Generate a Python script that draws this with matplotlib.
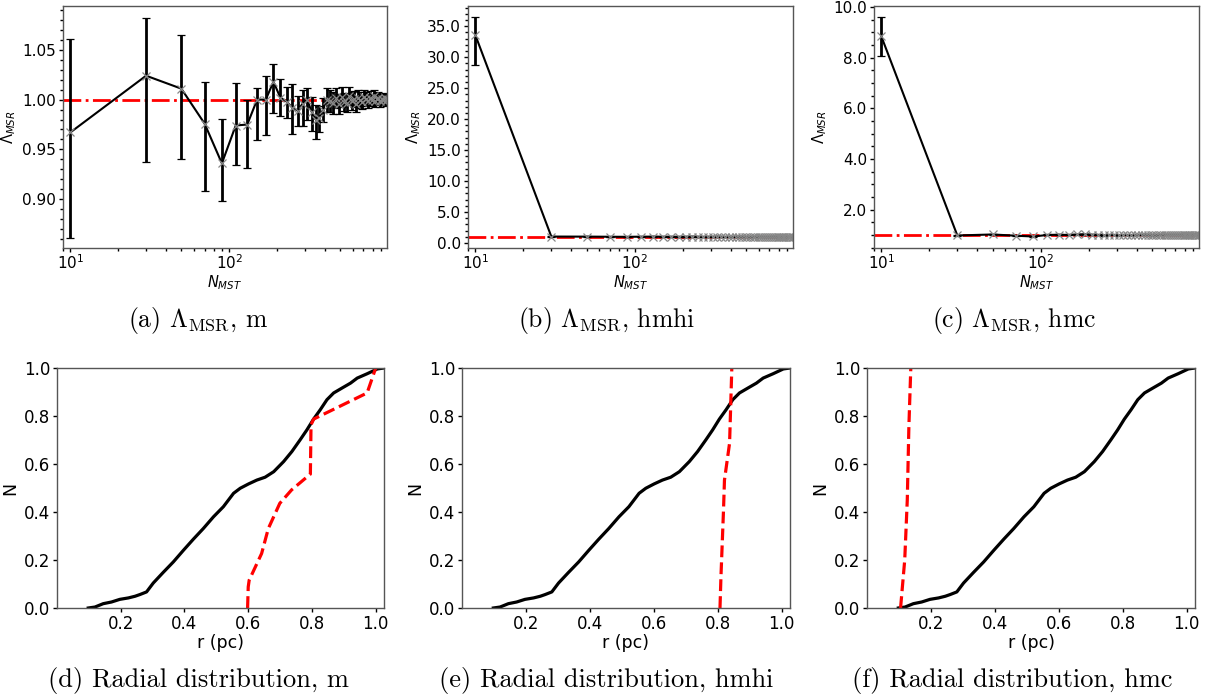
import numpy as np
import matplotlib.pyplot as plt
from matplotlib.ticker import FormatStrFormatter, MultipleLocator

# N_MST sample sizes (same for the three top panels)
n_mst = [10, 30, 50, 70, 90, 110, 130, 150, 170, 190,
         210, 230, 250, 270, 290, 310, 330, 350, 370, 390,
         410, 430, 450, 470, 490, 510, 530, 550, 570, 590,
         610, 630, 650, 670, 690, 710, 730, 750, 770, 790,
         810, 830, 850, 870, 890, 910, 930, 950, 970, 990]

# (a) m
a_val = [0.967, 1.024, 1.011, 0.976, 0.936, 0.974, 0.975, 1.000, 1.000, 1.018,
         1.002, 0.998, 0.992, 0.989, 0.996, 1.000, 0.988, 0.980, 0.982, 0.990,
         1.000, 0.999, 0.997, 1.002, 0.996, 1.003, 0.998, 0.997, 1.004, 0.999,
         1.001, 0.996, 1.002, 1.000, 0.998, 1.003, 1.001, 0.999, 1.002, 1.000,
         1.004, 0.999, 1.001, 1.002, 0.999, 1.001, 1.000, 1.002, 0.999, 1.001]
a_lo = [0.106, 0.087, 0.071, 0.068, 0.038, 0.040, 0.044, 0.041, 0.036, 0.031,
        0.018, 0.016, 0.027, 0.015, 0.022, 0.020, 0.020, 0.020, 0.015, 0.012,
        0.012, 0.011, 0.011, 0.010, 0.010, 0.010, 0.009, 0.009, 0.009, 0.009,
        0.008, 0.008, 0.008, 0.008, 0.007, 0.007, 0.007, 0.007, 0.007, 0.006,
        0.006, 0.006, 0.006, 0.006, 0.006, 0.005, 0.005, 0.005, 0.005, 0.005]
a_hi = [0.094, 0.058, 0.054, 0.042, 0.045, 0.043, 0.025, 0.012, 0.024, 0.018,
        0.019, 0.015, 0.024, 0.015, 0.014, 0.012, 0.015, 0.015, 0.012, 0.012,
        0.012, 0.011, 0.011, 0.010, 0.010, 0.010, 0.009, 0.009, 0.009, 0.009,
        0.008, 0.008, 0.008, 0.008, 0.007, 0.007, 0.007, 0.007, 0.007, 0.006,
        0.006, 0.006, 0.006, 0.006, 0.006, 0.005, 0.005, 0.005, 0.005, 0.005]

# (b) hmhi
b_val = [33.6, 1.02, 1.01, 0.99, 0.98, 1.00, 1.01, 1.00, 1.00, 0.99,
         1.00, 1.01, 1.00, 0.99, 1.00, 1.00, 1.01, 1.00, 0.99, 1.00,
         1.00, 1.00, 1.01, 1.00, 1.00, 0.99, 1.00, 1.00, 1.00, 1.01,
         1.00, 1.00, 0.99, 1.00, 1.00, 1.00, 1.00, 1.01, 1.00, 1.00,
         1.00, 0.99, 1.00, 1.00, 1.00, 1.00, 1.00, 1.00, 1.00, 1.00]
b_lo = [4.8] + [0.03] * 49
b_hi = [2.9] + [0.03] * 49

# (c) hmc
c_val = [8.84, 0.98, 1.02, 0.97, 0.94, 1.00, 1.01, 1.00, 1.02, 1.03,
         1.01, 1.00, 0.99, 1.00, 1.00, 0.99, 1.00, 1.00, 0.99, 1.00,
         1.00, 1.00, 1.01, 1.00, 1.00, 0.99, 1.00, 1.00, 1.00, 1.00,
         1.00, 1.00, 1.00, 1.00, 1.00, 1.00, 1.00, 1.00, 1.00, 1.00,
         1.00, 1.00, 1.00, 1.00, 1.00, 1.00, 1.00, 1.00, 1.00, 1.00]
c_lo = [0.77] + [0.02] * 49
c_hi = [0.76] + [0.02] * 49

# radial distributions: reference (black) curve
r_ref = [0.098, 0.119, 0.145, 0.171, 0.197, 0.224, 0.245, 0.260, 0.281, 0.302,
         0.333, 0.365, 0.397, 0.428, 0.459, 0.491, 0.522, 0.554, 0.575, 0.601,
         0.627, 0.653, 0.680, 0.711, 0.737, 0.763, 0.784, 0.805, 0.826, 0.847,
         0.868, 0.895, 0.921, 0.942, 0.973, 1.005, 1.026]
n_ref = [0.000, 0.004, 0.018, 0.025, 0.036, 0.042, 0.049, 0.056, 0.067, 0.104,
         0.148, 0.192, 0.241, 0.287, 0.331, 0.380, 0.422, 0.478, 0.499, 0.517,
         0.533, 0.545, 0.568, 0.610, 0.652, 0.701, 0.742, 0.787, 0.826, 0.868,
         0.896, 0.917, 0.937, 0.958, 0.976, 0.996, 1.000]

# selected stars (red)
r_m = [0.598, 0.600, 0.603, 0.642, 0.663, 0.699, 0.736, 0.795, 0.797, 0.805, 0.973, 1.000]
n_m = [0.000, 0.088, 0.116, 0.227, 0.331, 0.436, 0.492, 0.558, 0.763, 0.787, 0.896, 1.000]
r_hmhi = [0.807, 0.810, 0.818, 0.821, 0.837, 0.844]
n_hmhi = [0.000, 0.130, 0.408, 0.533, 0.687, 1.000]
r_hmc = [0.105, 0.118, 0.126, 0.131, 0.137]
n_hmc = [0.000, 0.200, 0.450, 0.756, 1.000]

W, H = 1213, 698
fig = plt.figure(figsize=(W / 100, H / 100), dpi=100)


def px_axes(left, top, right, bottom):
    return fig.add_axes([left / W, 1 - bottom / H, (right - left) / W, (bottom - top) / H])


def style(ax, fs):
    for s in ax.spines.values():
        s.set_color('#555555')
        s.set_linewidth(1.0)
    ax.tick_params(labelsize=fs, length=3, width=1, pad=2)
    ax.tick_params(which='minor', length=2, width=1)


top_axes = [px_axes(63, 6, 387, 248), px_axes(468, 6, 793, 248), px_axes(874, 6, 1199, 248)]
top_data = [(a_val, a_lo, a_hi), (b_val, b_lo, b_hi), (c_val, c_lo, c_hi)]

for i, ax in enumerate(top_axes):
    val, lo, hi = top_data[i]
    ax.axhline(1.0, color='red', linestyle='-.', linewidth=2, zorder=1)
    ax.errorbar(n_mst, val, yerr=[lo, hi], color='black', ecolor='black',
                elinewidth=2, capsize=3, capthick=1, linewidth=1.5,
                marker='x', markersize=6, markeredgewidth=0.9,
                markeredgecolor='#888888', zorder=2)
    ax.set_xscale('log')
    ax.set_xlim(9, 985)
    ax.minorticks_on()
    if i == 0:
        ax.set_ylim(0.851, 1.094)
    else:
        ax.yaxis.set_major_formatter(FormatStrFormatter('%.1f'))
    if i == 1:
        ax.yaxis.set_major_locator(MultipleLocator(5))
    ax.set_xlabel(r'$N_{MST}$', fontsize=10.5, labelpad=1)
    ax.set_ylabel(r'$\Lambda_{MSR}$', fontsize=10.5, labelpad=3)
    style(ax, 11)
    ax.tick_params(axis='x', pad=1)

bot_axes = [px_axes(57, 368, 384, 608), px_axes(462, 368, 790, 608), px_axes(867, 368, 1195, 608)]
red_data = [(r_m, n_m), (r_hmhi, n_hmhi), (r_hmc, n_hmc)]

for i, ax in enumerate(bot_axes):
    ax.plot(r_ref, n_ref, color='black', linewidth=2.3)
    ax.plot(red_data[i][0], red_data[i][1], color='red', linestyle='--', linewidth=2.3)
    ax.set_xlim(0, 1.026)
    ax.set_ylim(0, 1)
    ax.set_xticks([0.2, 0.4, 0.6, 0.8, 1.0])
    ax.set_yticks([0.0, 0.2, 0.4, 0.6, 0.8, 1.0])
    ax.set_xlabel('r (pc)', fontsize=12.5, labelpad=1)
    ax.set_ylabel('N', fontsize=12.5, labelpad=3)
    style(ax, 12)

captions_top = [r'(a) $\Lambda_{\rm MSR}$, m', r'(b) $\Lambda_{\rm MSR}$, hmhi', r'(c) $\Lambda_{\rm MSR}$, hmc']
captions_bot = ['(d) Radial distribution, m', '(e) Radial distribution, hmhi', '(f) Radial distribution, hmc']
cap_x_top = [198, 607, 1014]
cap_x_bot = [198, 606, 1012]

for t, x in zip(captions_top, cap_x_top):
    fig.text(x / W, 1 - 320 / H, t, ha='center', va='center', fontsize=18.5,
             family='cmr10', math_fontfamily='cm')
for t, x in zip(captions_bot, cap_x_bot):
    fig.text(x / W, 1 - 680 / H, t, ha='center', va='center', fontsize=19,
             family='cmr10', math_fontfamily='cm')

fig.savefig('out.png', dpi=100)
